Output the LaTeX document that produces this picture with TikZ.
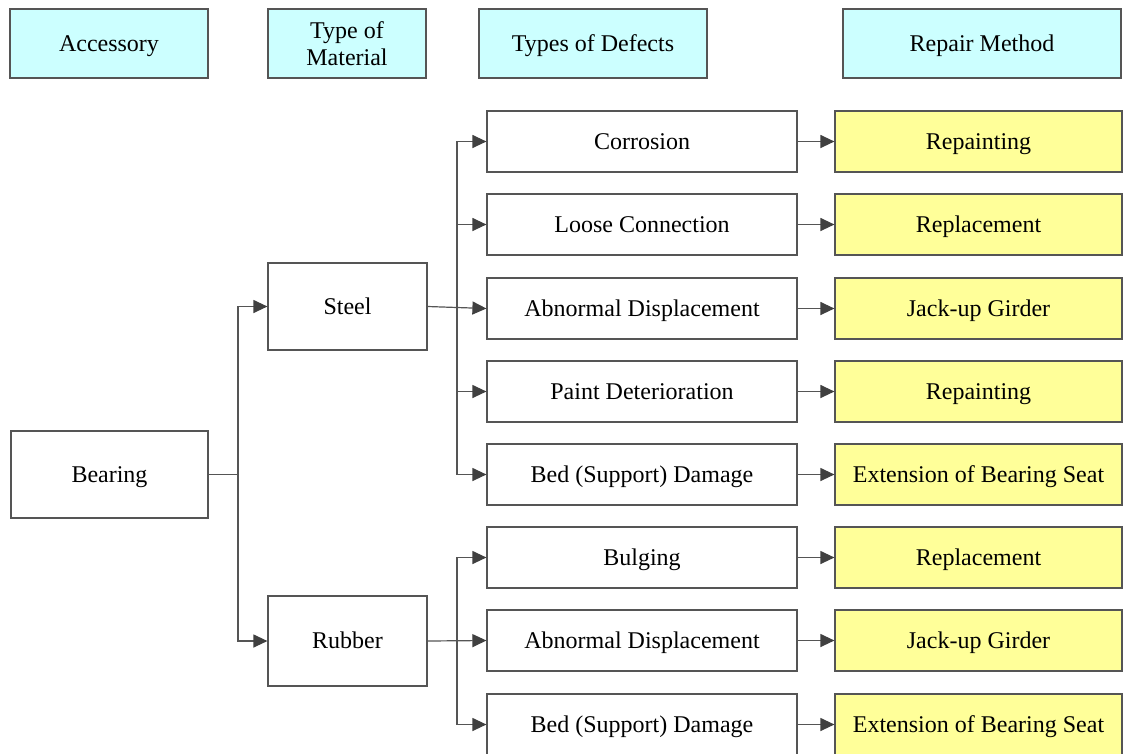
\documentclass[tikz,border=0pt]{standalone}
\usepackage{fontspec}
\setmainfont{Liberation Serif}
\usetikzlibrary{arrows.meta}
\definecolor{linegray}{HTML}{555555}
\definecolor{tipgray}{HTML}{404040}
\definecolor{headfill}{HTML}{CCFFFF}
\definecolor{repfill}{HTML}{FFFF99}
\begin{document}
\begin{tikzpicture}[x=1pt,y=-1pt,
  box/.style={draw=linegray,line width=1.2pt,inner sep=0pt,align=center,
    text height=17pt,text depth=2pt,
    font=\fontsize{24}{26.5}\selectfont},
  head/.style={box,fill=headfill,minimum height=69pt},
  defect/.style={box,fill=white,minimum width=310pt,minimum height=61pt},
  repair/.style={box,fill=repfill,minimum width=287pt,minimum height=61pt},
  conn/.style={draw=linegray,line width=1.2pt},
  arr/.style={conn,-{Triangle[length=14pt,width=13pt,color=tipgray]}}]
\useasboundingbox (0,0) rectangle (1123,753);
\clip (0,0) rectangle (1123,753);
\fill[white] (0,0) rectangle (1123,753);

% column headers
\node[head,minimum width=198pt] (hAcc) at (109,43.5) {Accessory};
\node[head,minimum width=158pt,text height={},text depth={}] (hMat) at (347,43.5) {Type of\\Material};
\node[head,minimum width=228pt] (hDef) at (593,43.5) {Types of Defects};
\node[head,minimum width=278pt] (hRep) at (982,43.5) {Repair Method};

% accessory and materials
\node[box,minimum width=197pt,minimum height=87pt] (bearing) at (109.5,474.5) {Bearing};
\node[box,minimum width=159pt,minimum height=87pt] (steel) at (347.5,306.5) {Steel};
\node[box,minimum width=159pt,minimum height=90pt] (rubber) at (347.5,641) {Rubber};

% defects
\node[defect] (d1) at (642,141.5) {Corrosion};
\node[defect] (d2) at (642,224.5) {Loose Connection};
\node[defect] (d3) at (642,308.5) {Abnormal Displacement};
\node[defect] (d4) at (642,391.5) {Paint Deterioration};
\node[defect] (d5) at (642,474.5) {Bed (Support) Damage};
\node[defect] (d6) at (642,557.5) {Bulging};
\node[defect] (d7) at (642,640.5) {Abnormal Displacement};
\node[defect] (d8) at (642,724.5) {Bed (Support) Damage};

% repair methods
\node[repair] (r1) at (978.5,141.5) {Repainting};
\node[repair] (r2) at (978.5,224.5) {Replacement};
\node[repair] (r3) at (978.5,308.5) {Jack-up Girder};
\node[repair] (r4) at (978.5,391.5) {Repainting};
\node[repair] (r5) at (978.5,474.5) {Extension of Bearing Seat};
\node[repair] (r6) at (978.5,557.5) {Replacement};
\node[repair] (r7) at (978.5,640.5) {Jack-up Girder};
\node[repair] (r8) at (978.5,724.5) {Extension of Bearing Seat};

% bearing to materials
\coordinate (jB) at (238,474.5);
\draw[conn] (bearing.east) -- (jB);
\draw[arr] (jB) |- (steel.west);
\draw[arr] (jB) |- (rubber.west);

% steel to its defects
\coordinate (jS) at (457,308.5);
\draw[arr] (steel.east) -- (d3.west);
\foreach \d in {d1,d2,d4,d5}
  \draw[arr] (jS) |- (\d.west);

% rubber to its defects
\coordinate (jR) at (457,640.5);
\draw[arr] (rubber.east) -- (d7.west);
\foreach \d in {d6,d8}
  \draw[arr] (jR) |- (\d.west);

% defects to repair methods
\foreach \i in {1,...,8}
  \draw[arr] (d\i.east) -- (r\i.west);
\end{tikzpicture}
\end{document}
